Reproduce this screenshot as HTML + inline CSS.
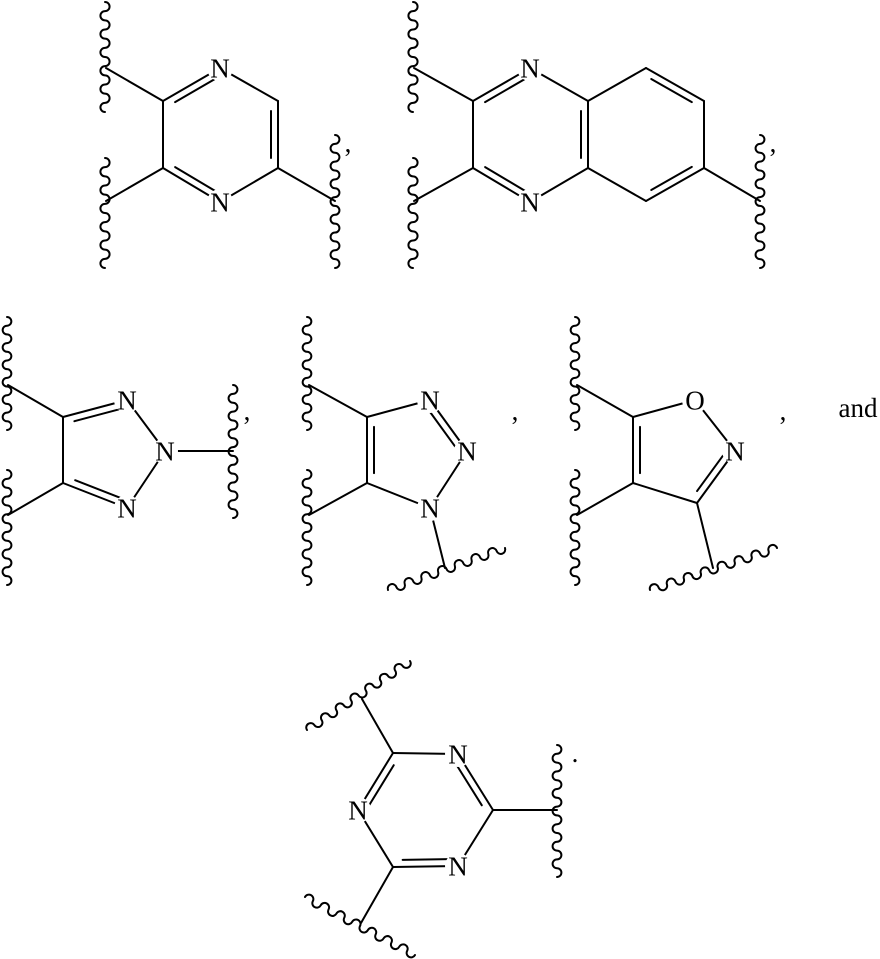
<!DOCTYPE html>
<html><head><meta charset="utf-8"><style>
html,body{margin:0;padding:0;background:#fff;}
svg{display:block;}
text{font-family:"Liberation Serif",serif;font-size:27px;fill:#000;}
</style></head><body>
<svg id="s" width="880" height="959" viewBox="0 0 880 959" xmlns="http://www.w3.org/2000/svg">
<g id="b" stroke="#000" stroke-width="2" fill="none" stroke-linecap="round"></g>
<g id="l"></g>
</svg>
<script>
var NS="http://www.w3.org/2000/svg",B=document.getElementById('b'),L=document.getElementById('l');
function el(p,t,a){var e=document.createElementNS(NS,t);for(var k in a)e.setAttribute(k,a[k]);p.appendChild(e);return e;}
function ln(a,b){el(B,'line',{x1:a[0],y1:a[1],x2:b[0],y2:b[1]});}
function dbl(a,b,c){ln(a,b);var dx=b[0]-a[0],dy=b[1]-a[1],len=Math.hypot(dx,dy),nx=-dy/len,ny=dx/len;
 var mx=(a[0]+b[0])/2,my=(a[1]+b[1])/2;if((c[0]-mx)*nx+(c[1]-my)*ny<0){nx=-nx;ny=-ny;}
 var o=7,s=0.15;ln([a[0]+dx*s+nx*o,a[1]+dy*s+ny*o],[b[0]-dx*s+nx*o,b[1]-dy*s+ny*o]);}
function ring(pts,dbls,c){for(var i=0;i<pts.length;i++){var a=pts[i],b=pts[(i+1)%pts.length];
 if(dbls.indexOf(i)>=0)dbl(a,b,c);else ln(a,b);}}
function wave(x1,y1,x2,y2){var dx=x2-x1,dy=y2-y1,len=Math.hypot(dx,dy),n=Math.round(len/9),ux=dx/n,uy=dy/n,r=len/n/2;
 var d='M'+x1+' '+y1;for(var i=1;i<=n;i++){d+=' A'+r+' '+r+' 0 0 '+(i%2)+' '+(x1+ux*i)+' '+(y1+uy*i);}el(B,'path',{d:d});}
function lab(t,x,y){el(L,'circle',{cx:x,cy:y,r:13,fill:'#fff'});var e=el(L,'text',{x:x,y:y+9.5,'text-anchor':'middle'});e.textContent=t;}
function txt(t,x,y,sz){var e=el(L,'text',{x:x,y:y,'text-anchor':'middle'});if(sz)e.setAttribute('style','font-size:'+sz+'px');e.textContent=t;}

var P=[[163,101],[220,68],[278,101],[278,168],[220,202],[163,168]];
ring(P,[0,2,4],[220,135]);
ln(P[0],[106,68]);ln(P[5],[106,201]);ln(P[3],[335,201]);
wave(105,2,105,112);wave(105,158,105,268);wave(335,135,335,268);
lab('N',220,68);lab('N',220,202);txt(',',348,152,27);

var Q=[[473,101],[530,68],[588,101],[588,168],[530,202],[473,168]];
ring(Q,[0,2,4],[530,135]);
var Bz=[[588,101],[646,68],[704,101],[704,168],[646,201],[588,168]];
ring(Bz,[1,3],[646,135]);
ln(Q[0],[414,68]);ln(Q[5],[414,201]);ln(Bz[3],[760,201]);
wave(413,2,413,112);wave(413,158,413,268);wave(760,135,760,268);
lab('N',530,68);lab('N',530,202);txt(',',773,152,27);

var T=[[63,417],[127,400],[165,451],[127,508],[63,483]];
ring(T,[0,3],[100,451]);
ln(T[0],[8,385]);ln(T[4],[8,515]);ln(T[2],[233,451]);
wave(7,317,7,430);wave(7,470,7,585);wave(233,385,233,518);
lab('N',127,400);lab('N',165,451);lab('N',127,508);txt(',',247,420,27);

var U=[[367,417],[430,400],[467,451],[430,508],[367,483]];
ring(U,[1,4],[412,451]);
ln(U[0],[309,385]);ln(U[4],[309,515]);ln(U[3],[445,568]);
wave(307,317,307,430);wave(307,470,307,585);wave(388,590,505,548);
lab('N',430,400);lab('N',467,451);lab('N',430,508);txt(',',515,420,27);

var I=[[633,417],[695,400],[735,451],[697,503],[633,483]];
ring(I,[2,4],[678,451]);
ln(I[0],[577,385]);ln(I[4],[577,515]);ln(I[3],[713,568]);
wave(575,317,575,430);wave(575,470,575,585);wave(650,590,777,548);
lab('O',695,400);lab('N',735,451);txt(',',783,420,27);txt('and',858,417,27);

var Z=[[393,753],[458,754],[493,810],[458,866],[393,867],[358,810]];
ring(Z,[1,3,5],[425,810]);
ln(Z[0],[362,699]);ln(Z[2],[557,810]);ln(Z[4],[361,923]);
wave(307,730,410,661);wave(557,745,557,877);wave(305,897,415,955);
lab('N',458,754);lab('N',458,866);lab('N',358,810);txt('.',575,762,27);
</script>
</body></html>
